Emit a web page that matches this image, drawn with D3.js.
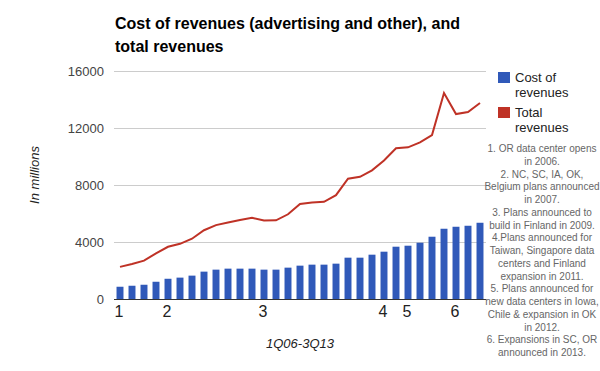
<!DOCTYPE html>
<html>
<head>
<meta charset="utf-8">
<script src="https://cdn.jsdelivr.net/npm/d3@7"></script>
<style>
  body { margin: 0; background: #fff; }
  svg { font-family: Arial, "Liberation Sans", sans-serif; }
</style>
</head>
<body>
<div class="chart"></div>
<script>
// quarters 1Q06 .. 3Q13
let quarters = [];
for (let y = 6; y <= 13; y++) {
  for (let q = 1; q <= 4; q++) {
    if (y === 13 && q > 3) break;
    quarters.push(q + 'Q' + String(y).padStart(2, '0'));
  }
}

// cost of revenues (advertising and other), $ millions
let costOfRevenues = [860, 930, 1000, 1210, 1420, 1500, 1640, 1920,
  2060, 2130, 2130, 2130, 2060, 2060, 2200, 2340,
  2410, 2410, 2480, 2900, 2900, 3110, 3320, 3670,
  3740, 3950, 4370, 4930, 5070, 5140, 5350];

// total revenues, $ millions
let totalRevenues = [2254, 2456, 2690, 3206, 3664, 3872, 4231, 4827,
  5186, 5367, 5541, 5701, 5509, 5523, 5945, 6674,
  6775, 6820, 7286, 8440, 8575, 9026, 9720, 10584,
  10645, 10990, 11510, 14450, 12980, 13120, 13750];

// numbered markers under the x axis
let markerQuarters = ['1Q06', '1Q07', '1Q09', '3Q11', '1Q12', '1Q13'];
let markerLabels = ['1', '2', '3', '4', '5', '6'];

let yTicks = [0, 4000, 8000, 12000, 16000];

let notes = [
  '1. OR data center opens', 'in 2006.',
  '2. NC, SC, IA, OK,', 'Belgium plans announced', 'in 2007.',
  '3. Plans announced to', 'build in Finland in 2009.',
  '4.Plans announced for', 'Taiwan, Singapore data', 'centers and Finland', 'expansion in 2011.',
  '5. Plans announced for', 'new data centers in Iowa,', 'Chile & expansion in OK', 'in 2012.',
  '6. Expansions in SC, OR', 'announced in 2013.'
];

let blue = '#3059b9';
let red = '#bf3226';

let W = 600, H = 371;
let plot = { left: 114, right: 486, top: 71, bottom: 299 };

let svg = d3.select('.chart')
  .append('svg')
  .attr('width', W)
  .attr('height', H);

// Title
svg.append('text')
  .attr('x', 115)
  .attr('y', 29)
  .style('font-size', '16px')
  .style('font-weight', 'bold')
  .style('fill', '#000')
  .text('Cost of revenues (advertising and other), and');
svg.append('text')
  .attr('x', 115)
  .attr('y', 52)
  .style('font-size', '16px')
  .style('font-weight', 'bold')
  .style('fill', '#000')
  .text('total revenues');

let xScale = d3.scaleBand()
  .domain(quarters)
  .range([plot.left, plot.right])
  .paddingInner(0.42)
  .paddingOuter(0.21);

let xPoint = q => xScale(q) + xScale.bandwidth() / 2;

let yScale = d3.scaleLinear()
  .domain([0, 16000])
  .range([plot.bottom, plot.top]);

// gridlines + y labels
let yAxis = d3.axisLeft(yScale)
  .tickValues(yTicks)
  .tickSize(-(plot.right - plot.left))
  .tickPadding(10)
  .tickFormat(d3.format('d'));

let gy = svg.append('g')
  .attr('transform', `translate(${plot.left},0)`)
  .call(yAxis);
gy.select('.domain').remove();
gy.selectAll('line').attr('stroke', '#ccc');
gy.selectAll('text')
  .style('font-size', '13px')
  .style('fill', '#444')
  .attr('font-family', null);

// bars
svg.append('g')
  .selectAll('rect')
  .data(costOfRevenues)
  .enter()
  .append('rect')
  .attr('x', (d, i) => xScale(quarters[i]))
  .attr('y', d => yScale(d))
  .attr('width', xScale.bandwidth())
  .attr('height', d => yScale(0) - yScale(d))
  .style('fill', blue);

// total revenues line
let line = d3.line()
  .x((d, i) => xPoint(quarters[i]))
  .y(d => yScale(d));

svg.append('path')
  .datum(totalRevenues)
  .attr('d', line)
  .attr('fill', 'none')
  .attr('stroke', red)
  .attr('stroke-width', 2);

// x axis with numbered markers
let xAxis = d3.axisBottom(xScale)
  .tickValues(markerQuarters)
  .tickSize(0)
  .tickPadding(7)
  .tickFormat(q => markerLabels[markerQuarters.indexOf(q)]);

let gx = svg.append('g')
  .attr('transform', `translate(0,${plot.bottom})`)
  .call(xAxis);
gx.select('.domain')
  .attr('d', `M${plot.left},0.5H${plot.right}`)
  .attr('stroke', '#333');
gx.selectAll('text')
  .style('font-size', '16px')
  .style('fill', '#222')
  .attr('dx', -1)
  .attr('font-family', null);

// axis titles
svg.append('text')
  .attr('x', (plot.left + plot.right) / 2)
  .attr('y', 348)
  .style('text-anchor', 'middle')
  .style('font-size', '13px')
  .style('font-style', 'italic')
  .style('fill', '#222')
  .text('1Q06-3Q13');

svg.append('text')
  .attr('transform', 'rotate(-90)')
  .attr('x', -175)
  .attr('y', 39)
  .style('text-anchor', 'middle')
  .style('font-size', '13px')
  .style('font-style', 'italic')
  .style('fill', '#222')
  .text('In millions');

// legend
let legend = [
  { color: blue, lines: ['Cost of', 'revenues'], y: 72 },
  { color: red, lines: ['Total', 'revenues'], y: 107 }
];
let lg = svg.append('g');
legend.forEach(item => {
  lg.append('rect')
    .attr('x', 498)
    .attr('y', item.y)
    .attr('width', 12)
    .attr('height', 11)
    .style('fill', item.color);
  item.lines.forEach((t, j) => {
    lg.append('text')
      .attr('x', 515)
      .attr('y', item.y + 10 + j * 15)
      .style('font-size', '13px')
      .style('fill', '#222')
      .text(t);
  });
});

// notes
svg.append('g')
  .selectAll('text')
  .data(notes)
  .enter()
  .append('text')
  .attr('x', 542)
  .attr('y', (d, i) => 152 + i * 12.75)
  .style('text-anchor', 'middle')
  .style('font-size', '10px')
  .style('fill', '#666')
  .text(d => d);
</script>
</body>
</html>
